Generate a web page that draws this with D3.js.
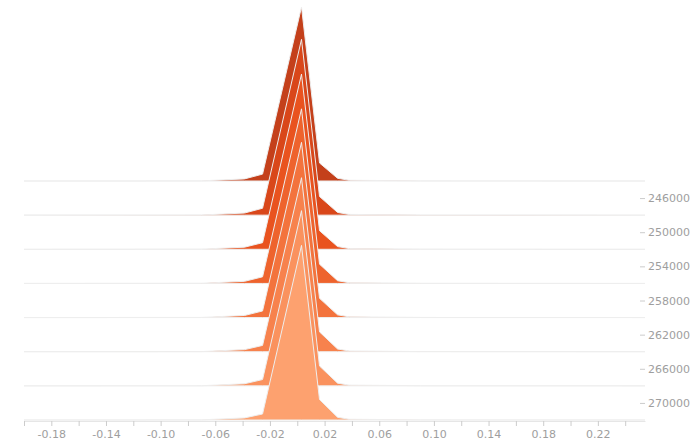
<!DOCTYPE html>
<html><head><meta charset="utf-8">
<script src="https://cdn.jsdelivr.net/npm/d3@7"></script>
<style>
body{margin:0;background:#fff}
svg{display:block}
.tick text{font-family:"DejaVu Sans",sans-serif;font-size:11px;fill:#9e9e9e}
.tick line{stroke:#ccc}
</style>
</head><body><svg width="700" height="441"></svg>
<script>
// ridge categories (y values)
const ridgeValues = [244000, 248000, 252000, 256000, 260000, 264000, 268000, 272000];
// shared evaluation grid (x values)
const xGrid = [-0.20, -0.07, -0.0386, -0.0254, 0.0031, 0.0163, 0.0295, 0.038, 0.09, 0.2545];
// density per ridge on the grid
const dens244000 = [0, 0.02, 0.35, 1.15, 29.0, 3.0, 0.45, 0.12, 0.02, 0];
const dens248000 = [0, 0.02, 0.35, 1.15, 29.3, 3.1, 0.45, 0.12, 0.02, 0];
const dens252000 = [0, 0.02, 0.35, 1.10, 29.2, 3.1, 0.45, 0.12, 0.02, 0];
const dens256000 = [0, 0.02, 0.35, 1.10, 29.1, 3.2, 0.45, 0.12, 0.02, 0];
const dens260000 = [0, 0.02, 0.35, 1.10, 29.2, 3.2, 0.45, 0.12, 0.02, 0];
const dens264000 = [0, 0.02, 0.35, 1.05, 29.0, 3.3, 0.45, 0.12, 0.02, 0];
const dens268000 = [0, 0.02, 0.35, 1.05, 29.2, 3.3, 0.45, 0.12, 0.02, 0];
const dens272000 = [0, 0.02, 0.35, 1.00, 29.1, 3.4, 0.45, 0.12, 0.02, 0];
const densities = [dens244000, dens248000, dens252000, dens256000, dens260000, dens264000, dens268000, dens272000];
// axis ticks
const xTicks = [-0.20,-0.18,-0.16,-0.14,-0.12,-0.10,-0.08,-0.06,-0.04,-0.02,0,0.02,0.04,0.06,0.08,0.10,0.12,0.14,0.16,0.18,0.20,0.22,0.24];
const xTickLabels = ["-0.18","-0.14","-0.10","-0.06","-0.02","0.02","0.06","0.10","0.14","0.18","0.22"];
const yTicks = [246000, 250000, 254000, 258000, 262000, 266000, 270000];

const svg = d3.select("svg");
const x = d3.scaleLinear().domain([-0.20, 0.2545]).range([24, 645]);
const y = d3.scaleLinear().domain([244000, 272000]).range([181, 420]);
const h = d3.scaleLinear().domain([0, 29]).range([0, 174]);
const color = d3.scaleLinear().domain([0, ridgeValues.length - 1])
  .range(["#c4401b", "#fda16f"]).interpolate(d3.interpolateHsl);

const area = d3.area()
  .x(d => x(d.x))
  .y0(d => d.base)
  .y1(d => d.base - h(d.v));

ridgeValues.forEach((rv, i) => {
  const base = y(rv);
  const pts = xGrid.map((xv, j) => ({x: xv, v: densities[i][j], base}));
  svg.append("path")
    .attr("d", area(pts))
    .attr("fill", color(i))
    .attr("stroke", "#eee")
    .attr("stroke-width", 1);
});

const fmt = v => {
  const s = d3.format(".2f")(Math.abs(v));
  const t = (v < 0 ? "-" : "") + s;
  return xTickLabels.includes(t) ? t : "";
};
const gx = svg.append("g").attr("transform", "translate(0,421)")
  .call(d3.axisBottom(x).tickValues(xTicks).tickFormat(fmt).tickSize(5).tickPadding(4).tickSizeOuter(0));
gx.select(".domain").attr("stroke", "#e6e6e6");

const gy = svg.append("g").attr("transform", "translate(640,0)")
  .call(d3.axisRight(y).tickValues(yTicks).tickFormat(d3.format("d")).tickSize(5).tickPadding(3));
gy.select(".domain").remove();
</script>
</body></html>
